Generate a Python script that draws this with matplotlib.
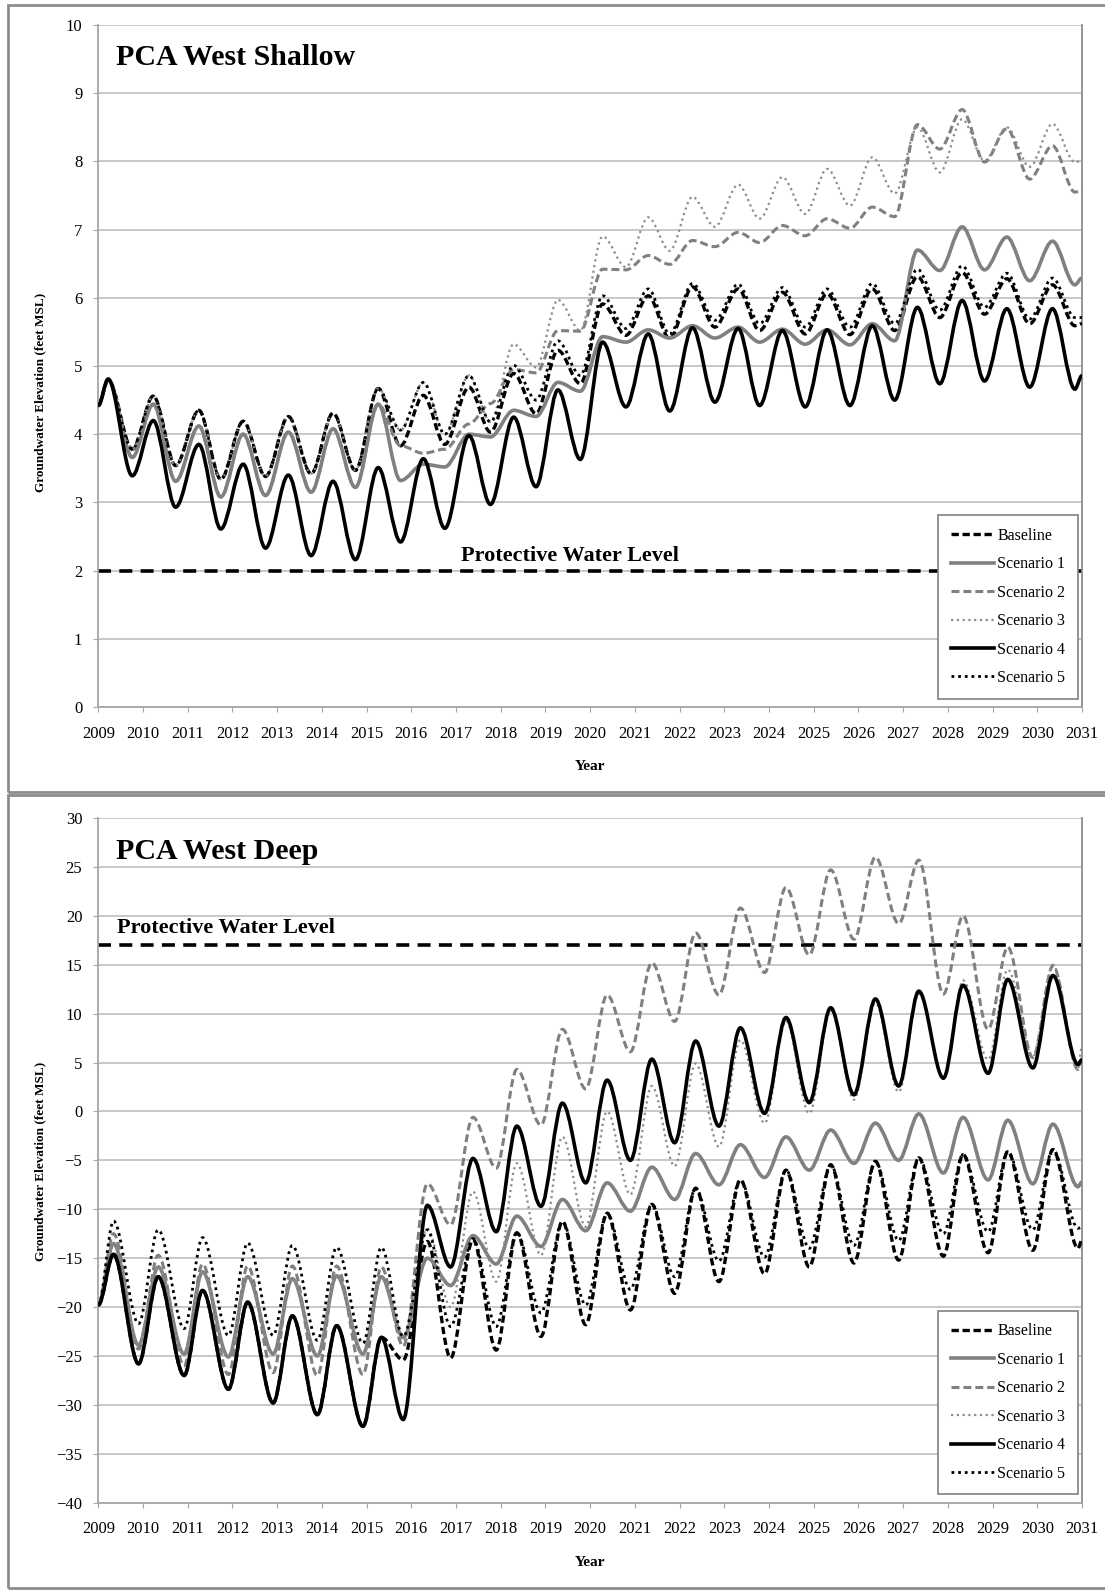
import matplotlib
matplotlib.use("Agg")
import matplotlib.pyplot as plt
from matplotlib.path import Path
from matplotlib.patches import PathPatch, Rectangle
from matplotlib.lines import Line2D

plt.rcParams['font.family'] = ['Liberation Serif', 'DejaVu Serif']

SERIES = ['Baseline', 'Scenario 1', 'Scenario 2', 'Scenario 3', 'Scenario 4', 'Scenario 5']

# ---- PCA West Shallow: seasonal highs / lows ----
shallow_t = [2009.00, 2009.22, 2009.76, 2010.23, 2010.73, 2011.25, 2011.74, 2012.24, 2012.74,
             2013.25, 2013.76, 2014.25, 2014.75, 2015.26, 2015.76, 2016.27, 2016.75, 2017.29,
             2017.77, 2018.29, 2018.79, 2019.28, 2019.78, 2020.28, 2020.80, 2021.30, 2021.78,
             2022.29, 2022.79, 2023.31, 2023.79, 2024.30, 2024.81, 2025.30, 2025.81, 2026.31,
             2026.81, 2027.32, 2027.82, 2028.32, 2028.82, 2029.32, 2029.83, 2030.34, 2030.84,
             2031.00]
shallow_base = [4.42, 4.80, 3.78, 4.56, 3.54, 4.35, 3.34, 4.19, 3.38, 4.26, 3.42, 4.31, 3.47,
                4.67, 3.83, 4.57, 3.85, 4.69, 4.03, 4.89, 4.30, 5.23, 4.74, 5.91, 5.45, 6.03,
                5.40, 6.16, 5.57, 6.13, 5.52, 6.08, 5.47, 6.06, 5.46, 6.13, 5.52, 6.31, 5.71,
                6.37, 5.76, 6.28, 5.62, 6.19, 5.59, 5.62]
shallow_s1 = [4.42, 4.80, 3.66, 4.44, 3.31, 4.12, 3.08, 4.00, 3.10, 4.03, 3.15, 4.08, 3.22,
              4.44, 3.32, 3.56, 3.52, 4.00, 3.96, 4.35, 4.26, 4.76, 4.63, 5.43, 5.35, 5.53,
              5.41, 5.59, 5.41, 5.57, 5.35, 5.54, 5.32, 5.53, 5.31, 5.62, 5.37, 6.70, 6.40,
              7.04, 6.41, 6.89, 6.25, 6.83, 6.19, 6.29]
shallow_s2 = [4.42, 4.80, 3.66, 4.44, 3.31, 4.12, 3.08, 4.00, 3.10, 4.03, 3.15, 4.08, 3.22,
              4.44, 3.83, 3.72, 3.78, 4.15, 4.45, 4.95, 4.90, 5.52, 5.51, 6.42, 6.41, 6.62,
              6.49, 6.84, 6.75, 6.96, 6.81, 7.06, 6.91, 7.16, 7.02, 7.33, 7.19, 8.54, 8.18,
              8.76, 7.99, 8.48, 7.74, 8.23, 7.55, 7.57]
shallow_s3 = [4.42, 4.80, 3.78, 4.56, 3.54, 4.35, 3.34, 4.19, 3.38, 4.26, 3.42, 4.31, 3.47,
              4.67, 4.06, 4.76, 4.00, 4.86, 4.18, 5.32, 4.98, 5.97, 5.52, 6.90, 6.45, 7.18,
              6.69, 7.48, 7.04, 7.66, 7.16, 7.77, 7.23, 7.89, 7.35, 8.06, 7.53, 8.50, 7.84,
              8.62, 8.01, 8.50, 7.92, 8.55, 7.99, 8.01]
shallow_s4 = [4.42, 4.81, 3.39, 4.20, 2.93, 3.85, 2.61, 3.56, 2.33, 3.40, 2.22, 3.31, 2.16,
              3.51, 2.42, 3.64, 2.62, 3.98, 2.97, 4.25, 3.23, 4.65, 3.63, 5.35, 4.40, 5.47,
              4.34, 5.56, 4.47, 5.55, 4.42, 5.52, 4.40, 5.53, 4.42, 5.59, 4.50, 5.86, 4.74,
              5.96, 4.78, 5.84, 4.69, 5.84, 4.66, 4.86]
shallow_s5 = [4.42, 4.80, 3.78, 4.56, 3.54, 4.35, 3.34, 4.19, 3.38, 4.26, 3.42, 4.31, 3.47,
              4.67, 4.06, 4.76, 4.00, 4.86, 4.18, 5.01, 4.50, 5.37, 4.86, 6.03, 5.55, 6.13,
              5.47, 6.21, 5.67, 6.20, 5.62, 6.15, 5.57, 6.13, 5.57, 6.21, 5.62, 6.42, 5.82,
              6.47, 5.86, 6.36, 5.69, 6.29, 5.71, 5.71]
shallow_protective = 2.0

# ---- PCA West Deep ----
deep_t = [2009.00, 2009.34, 2009.90, 2010.34, 2010.92, 2011.33, 2011.91, 2012.34, 2012.91,
          2013.34, 2013.90, 2014.33, 2014.92, 2015.33, 2015.82, 2016.36, 2016.88, 2017.38,
          2017.90, 2018.36, 2018.90, 2019.38, 2019.90, 2020.38, 2020.90, 2021.38, 2021.89,
          2022.36, 2022.88, 2023.36, 2023.90, 2024.38, 2024.90, 2025.38, 2025.90, 2026.38,
          2026.90, 2027.35, 2027.90, 2028.34, 2028.90, 2029.34, 2029.90, 2030.35, 2030.91,
          2031.00]
deep_base = [-19.8, -14.6, -25.8, -16.9, -27.0, -18.3, -28.4, -19.5, -29.8, -20.9, -31.0,
             -21.9, -32.2, -23.1, -25.4, -13.3, -25.2, -13.1, -24.4, -12.4, -23.0, -11.25,
             -21.8, -10.4, -20.3, -9.5, -18.6, -7.85, -17.4, -7.0, -16.6, -6.0, -15.9, -5.45,
             -15.5, -5.1, -15.2, -4.75, -14.8, -4.4, -14.45, -4.1, -14.2, -3.9, -14.0, -13.15]
deep_s1 = [-19.8, -13.5, -23.9, -15.9, -24.8, -16.4, -25.1, -16.9, -24.8, -17.1, -25.0,
           -16.8, -24.8, -16.9, -23.1, -15.0, -17.8, -12.7, -15.6, -10.7, -13.8, -9.0,
           -12.2, -7.3, -10.2, -5.7, -9.0, -4.3, -7.5, -3.4, -6.75, -2.6, -6.0, -1.9, -5.3,
           -1.2, -5.0, -0.25, -6.3, -0.6, -7.0, -0.9, -7.4, -1.3, -7.7, -7.2]
deep_s2 = [-19.8, -12.5, -24.3, -14.7, -26.0, -15.6, -26.9, -15.8, -26.7, -15.8, -27.0,
           -15.8, -26.9, -15.9, -24.0, -7.4, -11.6, -0.6, -5.8, 4.3, -1.4, 8.4, 2.3, 11.9,
           6.1, 15.2, 9.2, 18.25, 11.9, 20.8, 14.2, 22.9, 16.0, 24.7, 17.6, 26.0, 19.2, 25.7,
           12.0, 20.0, 8.4, 16.8, 5.5, 14.9, 4.3, 5.3]
deep_s3 = [-19.8, -13.5, -23.9, -15.9, -24.8, -16.4, -25.1, -16.9, -24.8, -17.1, -25.0,
           -16.8, -24.8, -16.9, -23.5, -12.0, -20.0, -8.2, -17.4, -5.3, -14.7, -2.6, -11.8,
           0.0, -8.5, 2.6, -5.6, 4.9, -3.6, 7.3, -1.2, 9.25, -0.2, 10.3, 1.2, 11.1, 2.0,
           12.0, 3.4, 13.4, 5.3, 14.5, 5.6, 15.0, 4.4, 6.7]
deep_s4 = [-19.8, -14.6, -25.8, -16.9, -27.0, -18.3, -28.4, -19.5, -29.8, -20.9, -31.0,
           -21.9, -32.2, -23.1, -31.5, -9.6, -15.9, -4.8, -12.3, -1.5, -9.7, 0.85, -7.3, 3.2,
           -5.0, 5.35, -3.2, 7.2, -1.5, 8.55, -0.2, 9.6, 0.9, 10.6, 1.7, 11.5, 2.6, 12.3,
           3.4, 12.9, 3.9, 13.5, 4.45, 13.9, 4.8, 5.3]
deep_s5 = [-19.8, -11.2, -21.7, -12.1, -22.2, -12.9, -22.9, -13.45, -22.9, -13.7, -23.4,
           -13.9, -23.7, -13.9, -23.0, -12.1, -22.0, -13.0, -22.0, -12.4, -20.6, -11.25,
           -19.8, -10.4, -18.2, -9.5, -16.9, -7.85, -15.3, -7.0, -14.9, -6.0, -14.0, -5.45,
           -13.7, -5.1, -13.2, -4.75, -12.5, -4.4, -12.3, -4.1, -12.1, -3.9, -11.95, -11.8]
deep_protective = 17.0

GRAY = '#808080'
STYLE = {
    'Baseline':   dict(color='black', lw=2.4, ls=(0, (2.2, 1.1))),
    'Scenario 1': dict(color=GRAY, lw=2.6, ls='-'),
    'Scenario 2': dict(color=GRAY, lw=2.2, ls=(0, (2.6, 1.3))),
    'Scenario 3': dict(color='#8c8c8c', lw=1.6, ls=(0, (1.0, 1.6))),
    'Scenario 4': dict(color='black', lw=2.6, ls='-'),
    'Scenario 5': dict(color='black', lw=2.0, ls=(0, (1.0, 1.4))),
}


def smooth(xs, ys):
    # cubic Bezier between successive highs/lows, flat at each turning point
    verts = [(xs[0], ys[0])]
    codes = [Path.MOVETO]
    for x0, y0, x1, y1 in zip(xs[:-1], ys[:-1], xs[1:], ys[1:]):
        d = (x1 - x0) / 3.0
        verts += [(x0 + d, y0), (x1 - d, y1), (x1, y1)]
        codes += [Path.CURVE4] * 3
    return Path(verts, codes)


def draw_panel(ax, t, values, ylim, ystep, title, title_y, prot, prot_xy, prot_ha):
    for name, v in zip(SERIES, values):
        s = STYLE[name]
        ax.add_patch(PathPatch(smooth(t, v), fill=False, edgecolor=s['color'],
                               lw=s['lw'], linestyle=s['ls'], capstyle='butt',
                               joinstyle='round', zorder=3))
    ax.axhline(prot, color='black', lw=2.6, ls=(0, (3.6, 2.3)), zorder=2)
    ax.text(prot_xy[0], prot_xy[1], 'Protective Water Level', ha=prot_ha, va='center',
            fontsize=16, fontweight='bold', zorder=4)
    ax.text(0.018, title_y, title, transform=ax.transAxes, fontsize=21.5,
            fontweight='bold', va='center', ha='left')

    ax.set_xlim(2009, 2031)
    ax.set_ylim(*ylim)
    ax.set_xticks(range(2009, 2032))
    ax.set_yticks(range(ylim[0], ylim[1] + 1, ystep))
    ax.grid(axis='y', color='#c8c8c8', lw=1.4)
    ax.set_axisbelow(True)
    ax.spines['top'].set_visible(False)
    for sp in ('left', 'bottom'):
        ax.spines[sp].set_color('#a6a6a6')
        ax.spines[sp].set_linewidth(1.3)
    ax.spines['right'].set_color('#8c8c8c')
    ax.spines['right'].set_linewidth(1.3)
    ax.tick_params(axis='both', direction='out', length=3.5, color='#a6a6a6',
                   labelsize=12)
    ax.tick_params(axis='x', pad=10)
    ax.tick_params(axis='y', pad=8)

    handles = [Line2D([], [], color=STYLE[n]['color'], lw=STYLE[n]['lw'],
                      ls=STYLE[n]['ls']) for n in SERIES]
    leg = ax.legend(handles, SERIES, loc='lower right', bbox_to_anchor=(0.996, 0.012),
                    borderaxespad=0, fontsize=11.5, frameon=True, fancybox=False,
                    edgecolor='#808080', framealpha=1, handlelength=2.7,
                    handletextpad=0.2, labelspacing=0.78, borderpad=0.8)
    leg.get_frame().set_linewidth(1.2)
    leg.set_zorder(6)


fig = plt.figure(figsize=(11.05, 15.9), dpi=100)
W, H = 1105.0, 1590.0

ax1 = fig.add_axes([98.3 / W, 1 - 707 / H, 983.7 / W, 682 / H])
ax2 = fig.add_axes([98.3 / W, 1 - 1502.7 / H, 983.7 / W, 684.7 / H])

draw_panel(ax1, shallow_t,
           [shallow_base, shallow_s1, shallow_s2, shallow_s3, shallow_s4, shallow_s5],
           (0, 10), 1, 'PCA West Shallow', 0.953, shallow_protective,
           (2019.55, 2.22), 'center')
draw_panel(ax2, deep_t,
           [deep_base, deep_s1, deep_s2, deep_s3, deep_s4, deep_s5],
           (-40, 30), 5, 'PCA West Deep', 0.951, deep_protective,
           (2009.42, 18.8), 'left')

for yc in (1 - 392 / H, 1 - 1161 / H):
    fig.text(40.5 / W, yc, 'Groundwater Elevation (feet MSL)', rotation=90,
             ha='center', va='center', fontsize=9.5, fontweight='bold')
for yc in (1 - 767 / H, 1 - 1562 / H):
    fig.text(590 / W, yc, 'Year', ha='center', va='center', fontsize=11,
             fontweight='bold')

# panel frames
for y0, y1 in ((5, 792), (795, 1588)):
    fig.add_artist(Rectangle((8 / W, 1 - y1 / H), 1.2, (y1 - y0) / H,
                             transform=fig.transFigure, fill=False,
                             edgecolor='#8c8c8c', lw=2))

fig.savefig('out.png', dpi=100)
